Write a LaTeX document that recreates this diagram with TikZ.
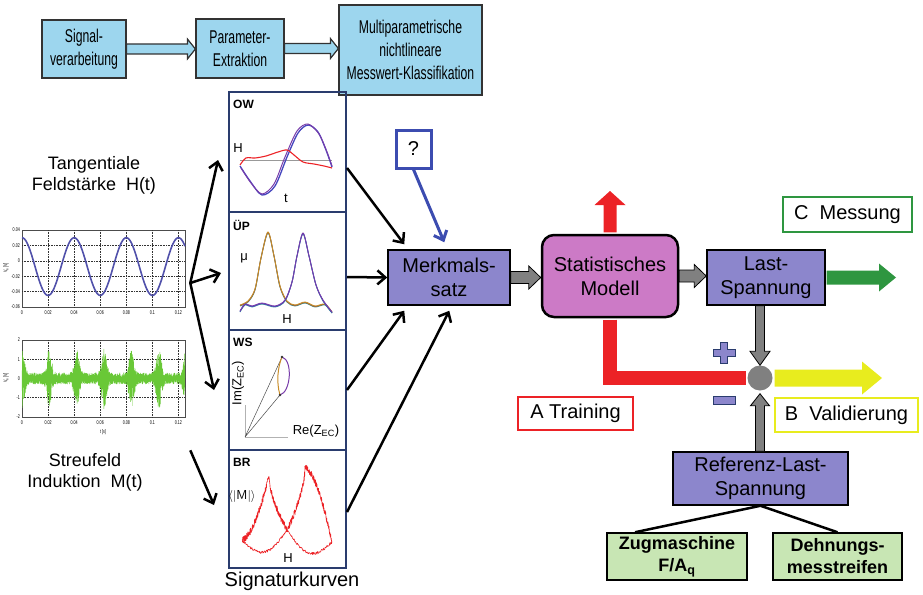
\documentclass[tikz,border=0pt]{standalone}
\usepackage{fontspec}
\setmainfont{Liberation Sans}
\newfontfamily\condfont{Liberation Sans}[FakeStretch=0.66]
\usetikzlibrary{arrows.meta,calc}
\definecolor{topblue}{RGB}{157,214,238}
\definecolor{boxpurple}{RGB}{140,134,204}
\definecolor{magbox}{RGB}{204,122,198}
\definecolor{redA}{RGB}{236,34,38}
\definecolor{greenC}{RGB}{46,150,64}
\definecolor{yellowB}{RGB}{232,236,30}
\definecolor{lightgreen}{RGB}{200,230,180}
\definecolor{navy}{RGB}{42,60,110}
\definecolor{qblue}{RGB}{60,76,176}
\definecolor{arrowgray}{RGB}{128,128,128}
\definecolor{sineblue}{RGB}{80,80,170}
\definecolor{noisegreen}{RGB}{105,200,55}
\definecolor{curvepurple}{RGB}{120,60,170}
\definecolor{curveorange}{RGB}{200,140,40}
\definecolor{curvebrown}{RGB}{150,90,60}
\definecolor{curveblue}{RGB}{70,70,190}
\definecolor{curveteal}{RGB}{60,150,150}
\newcommand{\blkR}[6]{\path[#1] let \p1=(#2), \p2=(#3) in (\x1,\y1+#4) -- (\x2-#6,\y1+#4) -- (\x2-#6,\y1+#5) -- (\x2,\y1) -- (\x2-#6,\y1-#5) -- (\x2-#6,\y1-#4) -- (\x1,\y1-#4) -- cycle;}
\newcommand{\blkD}[6]{\path[#1] let \p1=(#2), \p2=(#3) in (\x2-#4,\y1) -- (\x2-#4,\y2+#6) -- (\x2-#5,\y2+#6) -- (\x2,\y2) -- (\x2+#5,\y2+#6) -- (\x2+#4,\y2+#6) -- (\x2+#4,\y1) -- cycle;}
\newcommand{\blkU}[6]{\path[#1] let \p1=(#2), \p2=(#3) in (\x2-#4,\y1) -- (\x2-#4,\y2-#6) -- (\x2-#5,\y2-#6) -- (\x2,\y2) -- (\x2+#5,\y2-#6) -- (\x2+#4,\y2-#6) -- (\x2+#4,\y1) -- cycle;}
\tikzset{
  topbox/.style={draw=black!80, line width=1.2pt, fill=topblue, inner sep=0pt, align=center, font=\condfont\fontsize{18.5}{23}\selectfont},
  pbox/.style={draw=black, line width=1.5pt, fill=boxpurple, inner sep=0pt, align=center, font=\fontsize{20}{24}\selectfont},
  gbox/.style={draw=black, line width=1.5pt, fill=lightgreen, inner sep=0pt, align=center, font=\bfseries\fontsize{18}{22}\selectfont},
  labbox/.style={line width=2.5pt, fill=white, inner sep=0pt, font=\fontsize{20}{24}\selectfont},
  panel/.style={draw=navy, line width=2pt, minimum width=117pt, inner sep=0pt},
  plotframe/.style={draw=black!70, line width=0.6pt, minimum width=163pt, minimum height=77pt, inner sep=0pt},
  blkar/.style={line width=2.5pt, -{Straight Barb[length=8pt,width=14pt]}},
  grayar/.style={fill=arrowgray, draw=black, line width=0.8pt},
  hollowar/.style={fill=topblue, draw=black!80, line width=1.2pt},
  tick/.style={font=\condfont\fontsize{5.5}{6}\selectfont, inner sep=1pt},
  plab/.style={font=\bfseries\fontsize{12}{14}\selectfont, inner sep=0pt, anchor=west},
  axlab/.style={font=\fontsize{13}{15}\selectfont, inner sep=0pt},
  grid/.style={densely dotted, line width=0.6pt, black!80},
  brcurve/.style={redA, line width=0.6pt, line join=round}
}
\begin{document}
\begin{tikzpicture}[x=1pt,y=-1pt]
\useasboundingbox (0,0) rectangle (923,594);

% ---------- top row
\node[topbox, minimum width=84pt, minimum height=58pt] (sig) at (84,49) {Signal-\\verarbeitung};
\node[topbox, minimum width=88pt, minimum height=59pt] (par) at (240,48.5) {Parameter-\\Extraktion};
\node[topbox, minimum width=143pt, minimum height=90pt] (mult) at (410.5,50) {Multiparametrische\\nichtlineare\\Messwert-Klassifikation};
\blkR{hollowar}{sig.east}{par.west}{5pt}{10pt}{8pt}
\blkR{hollowar}{par.east}{mult.west}{5pt}{10pt}{8pt}

% ---------- left signals
\node[align=center, font=\fontsize{18}{21}\selectfont] (tang) at (94,175) {Tangentiale\\Feldstärke~ H(t)};
\node[align=center, font=\fontsize{18}{21}\selectfont] (streu) at (85,472) {Streufeld\\Induktion~ M(t)};

% top plot
\node[plotframe] (hplot) at (103.5,268.5) {};
\foreach \t in {20,40,...,120} \draw[grid] ({22+\t*1.304},230) -- ({22+\t*1.304},307);
\foreach \yy in {245.4,260.8,276.2,291.6} \draw[grid] (22,\yy) -- (185,\yy);
\draw[sineblue, line width=1.6pt] plot[domain=0:125, samples=150] ({22+\x*1.304},{307-(5.25+3.75*cos(9*(\x-40)))*7.7});
\foreach \yy/\lab in {230/0.04, 245.4/0.02, 260.8/0, 276.2/-0.02, 291.6/-0.04, 307/-0.06} \node[tick, anchor=east] at (21,\yy) {\lab};
\foreach \t/\lab in {0/0,20/0.02,40/0.04,60/0.06,80/0.08,100/0.1,120/0.12} \node[tick] at ({22+\t*1.304},313) {\lab};
\node[tick, rotate=90] at (6,268) {V\textsubscript{a} [V]};

% bottom plot
\node[plotframe] (mplot) at (103.5,378.5) {};
\foreach \t in {20,40,...,120} \draw[grid] ({22+\t*1.304},340) -- ({22+\t*1.304},417);
\foreach \yy in {359.25,378.5,397.75} \draw[grid] (22,\yy) -- (185,\yy);
\pgfmathsetseed{7}
\draw[noisegreen, line width=0.45pt] plot[domain=0.1:124.9, samples=1400] ({22+\x*1.304},{378.5-19.25*(0.15+0.85*rnd)*(2*mod(round(\x*11.3),2)-1)*(0.3+1.3*exp(0-pow((mod(\x+10.5,21)-10.5)/2.5,2)))});
\foreach \yy/\lab in {340/2, 359.25/1, 378.5/0, 397.75/-1, 417/-2} \node[tick, anchor=east] at (21,\yy) {\lab};
\foreach \t/\lab in {0/0,20/0.02,40/0.04,60/0.06,80/0.08,100/0.1,120/0.12} \node[tick] at ({22+\t*1.304},423) {\lab};
\node[tick] at (103,432) {t [s]};
\node[tick, rotate=90] at (6,378) {V\textsubscript{a} [V]};

\coordinate (hsrc) at ([xshift=5pt,yshift=-14.5pt]hplot.east);
\coordinate (msrc) at ([xshift=5pt,yshift=-33pt]mplot.south east);

% ---------- signature panels
\node[panel, minimum height=120pt] (ow) at (287.5,152) {};
\node[panel, minimum height=118pt] (up) at (287.5,271) {};
\node[panel, minimum height=120pt] (ws) at (287.5,390) {};
\node[panel, minimum height=118pt] (br) at (287.5,509) {};
\node[font=\fontsize{20}{24}\selectfont] (sigk) at (292,581) {Signaturkurven};

% OW
\node[plab] at (233,104) {OW};
\node[axlab] at (238,148) {H};
\node[axlab] at (286,198) {t};
\draw[black!40, line width=0.6pt] (240,160) -- (332,160);
\draw[curveblue, line width=1.3pt] plot[smooth] coordinates {(240,166) (250,181) (262,195) (275,186) (287,157) (298,133) (308,125) (318,132) (326,150) (332,167)};
\draw[curvepurple, line width=1pt] plot[smooth] coordinates {(241,168) (251,183) (262,194) (274,184) (285,157) (297,131) (308,124) (319,134) (327,152) (332,166)};
\draw[redA, line width=1.1pt] plot[smooth] coordinates {(240,165) (246,158) (255,158) (266,156) (278,152) (287,150) (294,155) (303,162) (314,164) (324,166) (332,168)};

% UP
\node[plab] at (233,225) {ÜP};
\node[axlab] at (244,258) {μ};
\node[axlab] at (287,319) {H};
\foreach \c/\d in {curveteal/1, curvebrown/0.5, curveorange/0}{
  \draw[\c, line width=0.9pt] plot[smooth] coordinates {(240,{305+\d}) (248,{301+\d}) (255,{289+\d}) (261,258) (268,{232+\d}) (274,256) (280,{286+\d}) (287,{301+\d}) (295,{305+\d}) (305,{302+\d}) (315,{306+\d}) (325,{304+\d}) (332,{312+\d})};
}
\foreach \c/\d in {curveteal/1, curveblue/0.5, curvepurple/0}{
  \draw[\c, line width=0.9pt] plot[smooth] coordinates {(240,{311+\d}) (245,{304+\d}) (252,{306+\d}) (262,{303+\d}) (275,{306+\d}) (285,{300+\d}) (292,282) (297,256) (303,{233+\d}) (309,256) (316,285) (323,{300+\d}) (332,{312+\d})};
}

% WS
\node[plab] at (233,342) {WS};
\node[axlab, rotate=90] at (238,383) {Im(Z\textsubscript{EC})};
\node[axlab] at (316,431) {Re(Z\textsubscript{EC})};
\draw[black!30, line width=0.8pt] (245,405) -- (245,437) -- (288,437);
\draw[black!70, line width=0.5pt] (245,437) -- (282,357) (245,437) -- (280,395);
\draw[curvepurple, line width=1pt] (282,357) .. controls (293,360) and (291,392) .. (280,395);
\draw[curveorange, line width=1pt] (280,395) .. controls (276,382) and (278,366) .. (282,357);
\fill[black!80] (282,357) circle (1.3pt) (280,395) circle (1.3pt);

% BR
\node[plab] at (233,462) {BR};
\node[axlab] at (242,496) {$\langle|\mathsf{M}|\rangle$};
\node[axlab] at (288,558) {H};
\pgfmathsetseed{3}
\draw[brcurve] plot[domain=242.3:269, samples=160] (\x,{540-64*pow((\x-242)/27,1.7)+3.4*rand});
\draw[brcurve] plot[domain=269:286.7, samples=110] (\x,{476+54*pow((\x-269)/18,0.6)+3.4*rand});
\draw[brcurve] plot[domain=305:331.7, samples=160] (\x,{468+74*pow((\x-305)/27,1.7)+3.4*rand});
\draw[brcurve] plot[domain=287.3:305, samples=110] (\x,{468+62*pow((305-\x)/18,0.6)+3.4*rand});
\draw[brcurve] plot[domain=287:332, samples=100] (\x,{530+12*(\x-287)/45+17*sin(180*(\x-287)/45)+1.3*rand});
\draw[brcurve] plot[domain=242:287, samples=100] (\x,{540-10*(\x-242)/45+17*sin(180*(\x-242)/45)+1.3*rand});

% ---------- left arrows
\draw[blkar] (hsrc) -- ([xshift=-10pt,yshift=-8pt]ow.west);
\draw[blkar] (hsrc) -- ([xshift=-7pt,yshift=-2pt]up.west);
\draw[blkar] (hsrc) -- ([xshift=-14pt]ws.west);
\draw[blkar] (msrc) -- ([xshift=-14pt,yshift=4pt]br.west);

% ---------- middle
\node[pbox, minimum width=122pt, minimum height=55pt] (merk) at (449,277.5) {Merkmals-\\satz};
\node[labbox, draw=qblue, line width=3pt, minimum width=35pt, minimum height=38pt] (q) at (413.5,149) {?};
\draw[blkar] ([yshift=-16pt]ow.east) -- ([xshift=17pt,yshift=5pt]merk.north west);
\draw[blkar] ([yshift=-6pt]up.east) -- (merk.west);
\draw[blkar] (ws.east) -- ([xshift=17pt,yshift=-5pt]merk.south west);
\draw[blkar] ([yshift=-3pt]br.east) -- ([xshift=62pt,yshift=-5pt]merk.south west);
\draw[blkar, qblue, line width=3pt] (q.south) -- ([xshift=57pt,yshift=7pt]merk.north west);

\node[draw=black, line width=2.5pt, fill=magbox, rounded corners=12pt, minimum width=136pt, minimum height=82pt, align=center, font=\fontsize{20}{24}\selectfont] (stat) at (610,276) {Statistisches\\Modell};
\node[pbox, minimum width=118pt, minimum height=55pt] (last) at (766,277.5) {Last-\\Spannung};
\node[circle, fill=arrowgray, minimum size=25pt, inner sep=0pt] (circ) at (760,378) {};
\node[pbox, minimum width=175pt, minimum height=53pt] (ref) at (760.5,478.5) {Referenz-Last-\\Spannung};
\node[gbox, minimum width=140pt, minimum height=47pt] (zug) at (677,556.5) {Zugmaschine\\F/A\textsubscript{q}};
\node[gbox, minimum width=129pt, minimum height=47pt] (dehn) at (837.5,556.5) {Dehnungs-\\messtreifen};

\node[labbox, draw=greenC, minimum width=129pt, minimum height=35pt] (cmess) at (847.5,214.5) {C~ Messung};
\node[labbox, draw=redA, minimum width=115pt, minimum height=33pt] (atrain) at (575.5,413.5) {A Training};
\node[labbox, draw=yellowB, minimum width=143pt, minimum height=34pt] (bval) at (846.5,415) {B~ Validierung};

\coordinate (redtip) at (610,191);
\coordinate (gtip) at (896,277.5);
\coordinate (ytip) at (882,378);

\blkR{grayar}{merk.east}{stat.west}{6pt}{11.5pt}{12pt}
\blkR{grayar}{stat.east}{last.west}{6pt}{11.5pt}{12pt}
\blkD{grayar}{last.south}{circ.north}{4.5pt}{10pt}{14pt}
\blkU{grayar}{ref.north}{[yshift=-3pt]circ.south}{4.5pt}{9.5pt}{12pt}
\blkU{fill=redA}{[yshift=1.3pt]stat.north}{redtip}{6.5pt}{15.5pt}{14pt}
\draw[redA, line width=14pt] ([yshift=-1.3pt]stat.south) |- ([xshift=-1pt]circ.west);
\blkR{fill=greenC}{[xshift=0.8pt]last.east}{gtip}{7pt}{14pt}{17pt}
\blkR{fill=yellowB}{[xshift=2pt]circ.east}{ytip}{8.5pt}{16.5pt}{20pt}

% plus / minus
\filldraw[fill=boxpurple, draw=navy, line width=0.8pt] (720.5,342.5) -- (727.5,342.5) -- (727.5,349.5) -- (735,349.5) -- (735,356.5) -- (727.5,356.5) -- (727.5,363.5) -- (720.5,363.5) -- (720.5,356.5) -- (713,356.5) -- (713,349.5) -- (720.5,349.5) -- cycle;
\filldraw[fill=boxpurple, draw=navy, line width=0.8pt] (713,396) rectangle (735,404);

\draw[line width=2.5pt] (ref.south) -- ([xshift=-42pt]zug.north);
\draw[line width=2.5pt] (ref.south) -- (dehn.north);
\end{tikzpicture}
\end{document}
